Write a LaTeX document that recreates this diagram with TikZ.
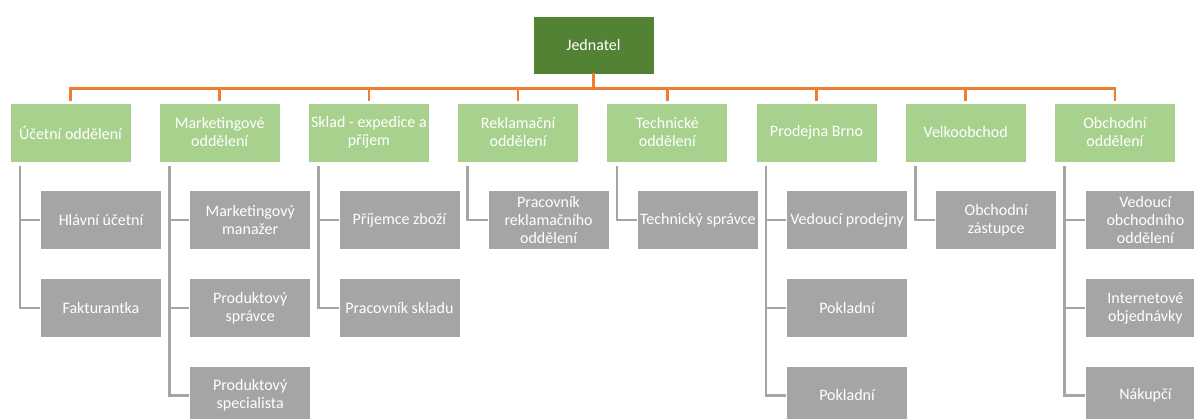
\documentclass[tikz,border=0pt]{standalone}
\usepackage{fontspec}
\setmainfont{Carlito}
\definecolor{topgreen}{HTML}{548235}
\definecolor{litegreen}{HTML}{A9D18E}
\definecolor{boxgray}{HTML}{A5A5A5}
\definecolor{orgline}{HTML}{ED7D31}
\begin{document}
\begin{tikzpicture}[x=1pt,y=-1pt,
  basebox/.style={rectangle, draw=white, line width=0.75pt, text=white,
    minimum width=121pt, minimum height=59pt, inner sep=1pt, align=center,
    font=\fontsize{16}{18}\selectfont},
  topbox/.style={basebox, fill=topgreen, minimum height=58pt},
  deptbox/.style={basebox, fill=litegreen},
  rolebox/.style={basebox, fill=boxgray},
  org/.style={draw=orgline, line width=2.6pt, line cap=rect},
  gry/.style={draw=boxgray, line width=2.6pt, line cap=rect}]
\useasboundingbox (0,0) rectangle (1194,419);

% top
\node[topbox] (j) at (593.5,45) {Jednatel};

% departments
\node[deptbox] (u1) at (70.5,132.5) {Účetní oddělení};
\node[deptbox] (u2) at (219.7,132.5) {Marketingové\\oddělení};
\node[deptbox] (u3) at (368.9,132.5) {Sklad - expedice a\\příjem};
\node[deptbox] (u4) at (518.1,132.5) {Reklamační\\oddělení};
\node[deptbox] (u5) at (667.3,132.5) {Technické\\oddělení};
\node[deptbox] (u6) at (816.5,132.5) {Prodejna Brno};
\node[deptbox] (u7) at (965.7,132.5) {Velkoobchod};
\node[deptbox] (u8) at (1114.9,132.5) {Obchodní\\oddělení};

% roles
\node[rolebox] (c11) at (101,220) {Hlávní účetní};
\node[rolebox] (c12) at (101,308) {Fakturantka};
\node[rolebox] (c21) at (250.2,220) {Marketingový\\manažer};
\node[rolebox] (c22) at (250.2,308) {Produktový\\správce};
\node[rolebox] (c23) at (250.2,395.5) {Produktový\\specialista};
\node[rolebox] (c31) at (399.4,220) {Příjemce zboží};
\node[rolebox] (c32) at (399.4,308) {Pracovník skladu};
\node[rolebox] (c41) at (548.6,220) {Pracovník\\reklamačního\\oddělení};
\node[rolebox] (c51) at (697.8,220) {Technický správce};
\node[rolebox] (c61) at (847,220) {Vedoucí prodejny};
\node[rolebox] (c62) at (847,308) {Pokladní};
\node[rolebox] (c63) at (847,395.5) {Pokladní};
\node[rolebox] (c71) at (996.2,220) {Obchodní\\zástupce};
\node[rolebox] (c81) at (1145.4,220) {Vedoucí\\obchodního\\oddělení};
\node[rolebox] (c82) at (1145.4,308) {Internetové\\objednávky};
\node[rolebox] (c83) at (1145.4,395.5) {Nákupčí};

% orange connectors
\foreach \u in {u1,u2,u3,u4,u5,u6,u7,u8}
  \draw[org] (j.south) -- ++(0,14) -| ([yshift=3pt]\u.north);

% gray connectors
\foreach \u/\c in {u1/c11,u1/c12,u2/c21,u2/c22,u2/c23,u3/c31,u3/c32,u4/c41,
                   u5/c51,u6/c61,u6/c62,u6/c63,u7/c71,u8/c81,u8/c82,u8/c83}
  \draw[gry, line cap=butt] ([xshift=10.5pt,yshift=-4pt]\u.south west) |- (\c.west);
\end{tikzpicture}
\end{document}
